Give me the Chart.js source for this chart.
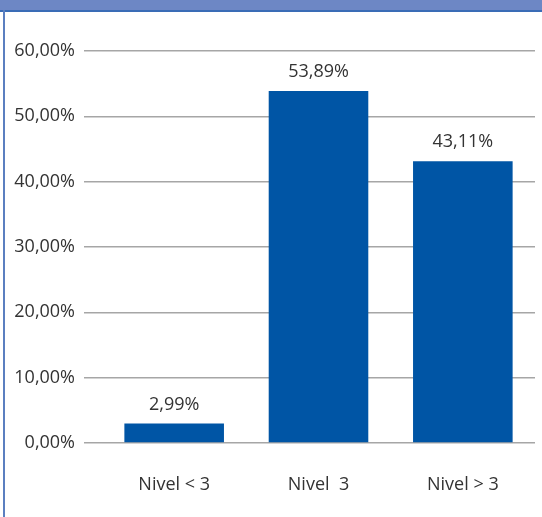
<!DOCTYPE html>
<html>
<head>
<meta charset="utf-8">
<script src="https://cdn.jsdelivr.net/npm/chart.js@4/dist/chart.umd.min.js"></script>
<style>
  html, body { margin: 0; padding: 0; background: #fff; }
  #wrap { position: relative; width: 542px; height: 517px; overflow: hidden; }
  #band { position: absolute; left: 0; top: 0; width: 542px; height: 10px; background: #6d87c5; border-bottom: 2px solid #3a6cb6; }
  #edge { position: absolute; left: 3px; top: 10px; width: 2px; height: 507px; background: #5b7fc0; }
  canvas { position: absolute; left: 0; top: 0; }
</style>
</head>
<body>
<div id="wrap">
  <canvas id="chart" width="542" height="517"></canvas>
  <div id="band"></div>
  <div id="edge"></div>
</div>
<script>
const categories = ['Nivel < 3', 'Nivel  3', 'Nivel > 3'];
const values = [2.99, 53.89, 43.11];
const tickValues = [0, 10, 20, 30, 40, 50, 60];

const pct = v => v.toFixed(2).replace('.', ',') + '%';

const barLabels = {
  id: 'barLabels',
  afterDatasetsDraw(chart) {
    const c = chart.ctx;
    const meta = chart.getDatasetMeta(0);
    c.save();
    c.font = '18px "Open Sans"';
    c.fillStyle = '#333';
    c.textAlign = 'center';
    c.textBaseline = 'bottom';
    meta.data.forEach((bar, i) => {
      c.fillText(pct(values[i]), bar.x, bar.y - 10);
    });
    c.restore();
  }
};

new Chart(document.getElementById('chart'), {
  type: 'bar',
  data: {
    labels: categories,
    datasets: [{
      data: values,
      backgroundColor: '#0055a5',
      categoryPercentage: 1,
      barPercentage: 0.69
    }]
  },
  options: {
    responsive: false,
    animation: false,
    layout: { padding: { top: 51, left: 2, right: 7, bottom: 0 } },
    plugins: { legend: { display: false }, tooltip: { enabled: false } },
    scales: {
      x: {
        grid: { display: false, drawTicks: false },
        border: { display: false },
        ticks: { color: '#333', padding: 31, font: { family: 'Open Sans', size: 18 } },
        afterFit: s => { s.height = 74; }
      },
      y: {
        min: 0,
        max: 60,
        afterBuildTicks: s => { s.ticks = tickValues.map(v => ({ value: v })); },
        grid: { color: '#a6a6a6', lineWidth: 1.5, tickLength: 18 },
        border: { display: false },
        ticks: {
          color: '#333',
          padding: 9,
          font: { family: 'Open Sans', size: 18 },
          callback: v => pct(v)
        },
        afterFit: s => { s.width = 100; }
      }
    }
  },
  plugins: [barLabels]
});
</script>
</body>
</html>
